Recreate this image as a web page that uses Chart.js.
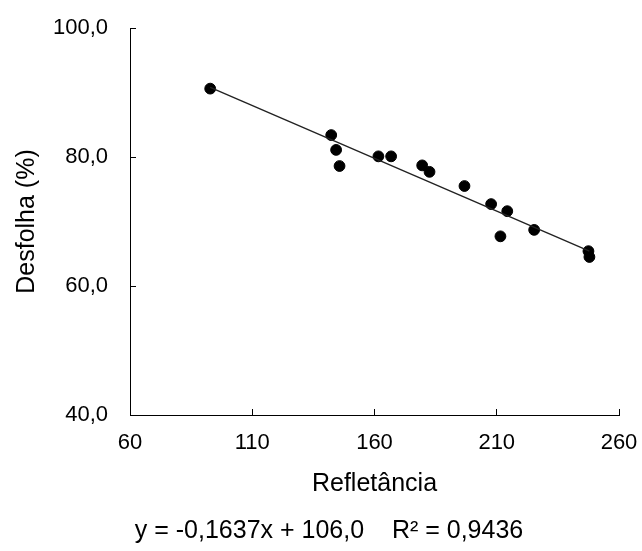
<!DOCTYPE html>
<html>
<head>
<meta charset="utf-8">
<script src="https://cdn.jsdelivr.net/npm/chart.js@4.4.1/dist/chart.umd.min.js"></script>
<style>
  html, body { margin: 0; padding: 0; background: #fff; }
  #wrap { width: 642px; height: 551px; }
</style>
</head>
<body>
<div id="wrap"><canvas id="chart"></canvas></div>
<script>
const refletancia = [92.8, 142.3, 144.3, 145.7, 161.6, 166.8, 179.5, 182.5, 196.8, 207.7, 214.3, 211.5, 225.3, 247.5, 247.9]
const desfolha = [90.6, 83.4, 81.1, 78.6, 80.1, 80.1, 78.7, 77.7, 75.5, 72.7, 71.6, 67.7, 68.7, 65.4, 64.5]
const slope = -0.1637
const intercept = 106.0
const xTicks = [60, 110, 160, 210, 260]
const yTicks = [40, 60, 80, 100]
const xTitle = 'Refletância'
const yTitle = 'Desfolha (%)'
const equationText = 'y = -0,1637x + 106,0    R² = 0,9436'

const fontFamily = '"Liberation Sans", Arial, sans-serif'

const points = refletancia.map((x, i) => ({ x: x, y: desfolha[i] }))
const xMin = Math.min(...refletancia)
const xMax = Math.max(...refletancia)
const trend = [
  { x: xMin, y: intercept + slope * xMin },
  { x: xMax, y: intercept + slope * xMax }
]

const formatComma = (v) => v.toFixed(1).replace('.', ',')

// equation of the trend line, under the x axis title
const equationPlugin = {
  id: 'equation',
  afterDraw(chart) {
    const ctx = chart.ctx
    ctx.save()
    ctx.font = '25px ' + fontFamily
    ctx.fillStyle = '#000'
    ctx.textAlign = 'center'
    ctx.textBaseline = 'middle'
    ctx.fillText(equationText, 329, 531)
    ctx.restore()
  }
}

new Chart(document.getElementById('chart'), {
  type: 'scatter',
  data: {
    datasets: [
      {
        type: 'line',
        data: trend,
        borderColor: '#222',
        borderWidth: 1.4,
        pointRadius: 0,
        fill: false
      },
      {
        data: points,
        backgroundColor: '#000',
        borderColor: '#000',
        pointRadius: 5.4,
        pointHoverRadius: 5.4
      }
    ]
  },
  options: {
    responsive: true,
    maintainAspectRatio: false,
    animation: false,
    layout: { padding: { top: 28, right: 23, left: 0, bottom: 0 } },
    plugins: {
      legend: { display: false },
      tooltip: { enabled: false }
    },
    scales: {
      x: {
        type: 'linear',
        min: 60,
        max: 260,
        afterBuildTicks: (scale) => { scale.ticks = xTicks.map(v => ({ value: v })) },
        afterFit: (scale) => {
          scale.height = 136
          scale.paddingLeft = 0
          scale.paddingRight = 0
        },
        border: { color: '#000', width: 1 },
        grid: { drawOnChartArea: false, color: '#000', tickLength: -6 },
        ticks: {
          color: '#000',
          padding: 21,
          maxRotation: 0,
          font: { family: fontFamily, size: 22 },
          callback: (v) => String(v)
        },
        title: {
          display: true,
          text: xTitle,
          color: '#000',
          font: { family: fontFamily, size: 25 },
          padding: { top: 0, bottom: 52 }
        }
      },
      y: {
        type: 'linear',
        min: 40,
        max: 100,
        afterBuildTicks: (scale) => { scale.ticks = yTicks.map(v => ({ value: v })) },
        afterFit: (scale) => {
          scale.width = 130
          scale.paddingTop = 0
          scale.paddingBottom = 0
        },
        border: { color: '#000', width: 1 },
        grid: { drawOnChartArea: false, color: '#000', tickLength: -6 },
        ticks: {
          color: '#000',
          padding: 28,
          font: { family: fontFamily, size: 22 },
          callback: (v) => formatComma(v)
        },
        title: {
          display: true,
          text: yTitle,
          color: '#000',
          font: { family: fontFamily, size: 25 },
          padding: { top: 12, bottom: 0 }
        }
      }
    }
  },
  plugins: [equationPlugin]
})
</script>
</body>
</html>
